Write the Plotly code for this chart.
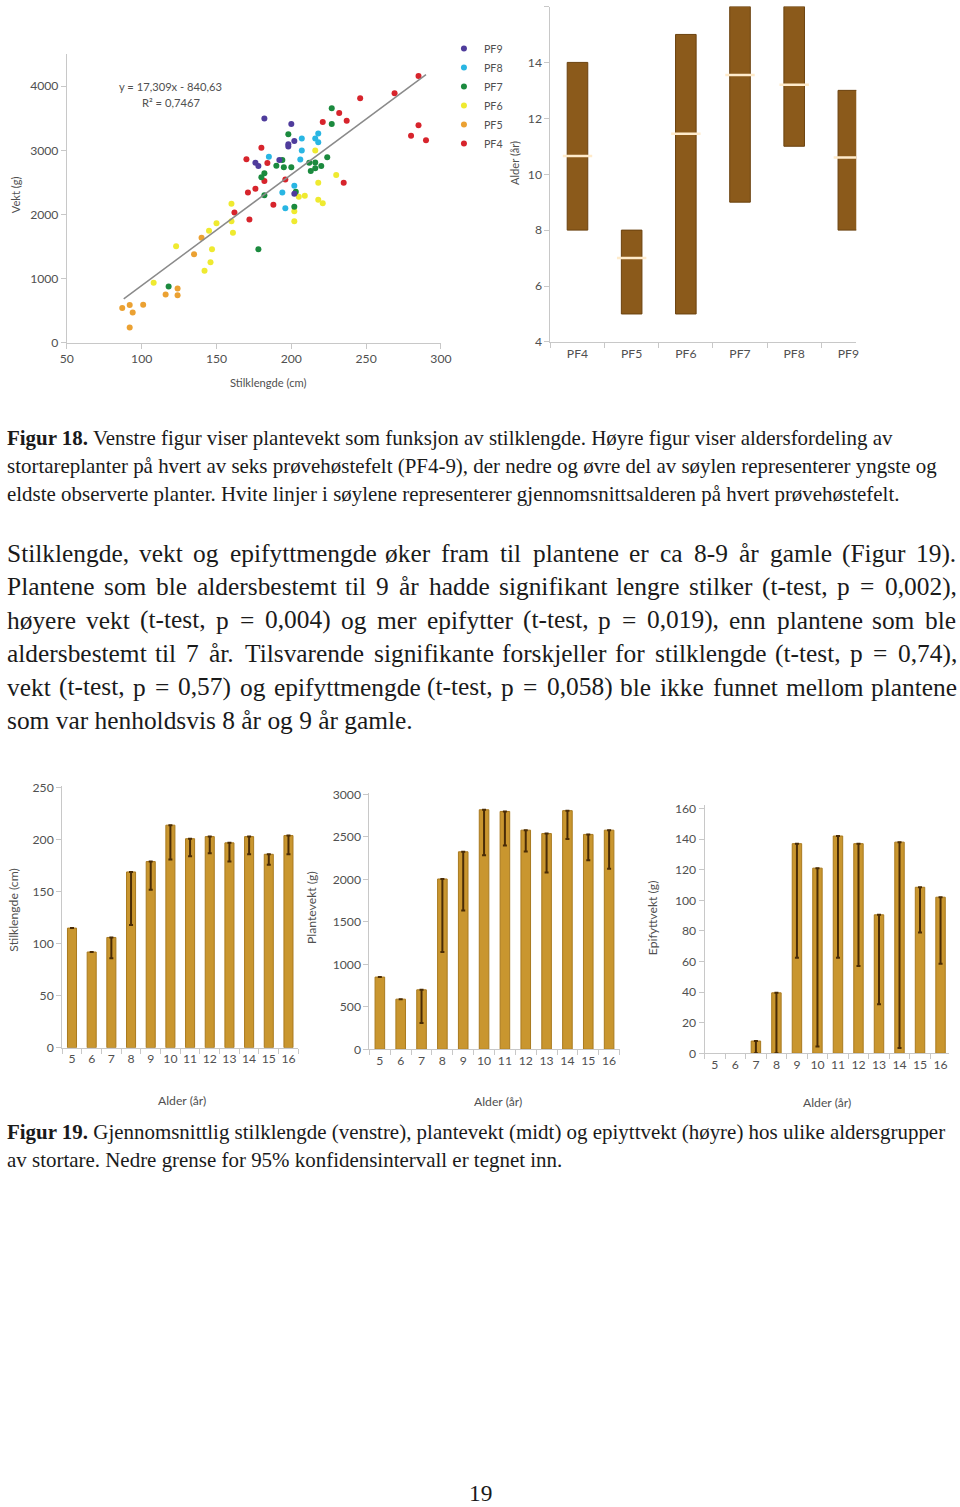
import plotly.graph_objects as go

# Figure size; the photographed page shows it with an 8px offset and a slight downscale,
# so page-pixel positions are converted to paper coordinates through SX/SY.
W, H = 960, 1507
OX, OY = 8, 8
SX, SY = 0.9836, 0.9895

# ---------------- data: scatter (Figur 18 left) ----------------
series_names = ["PF4", "PF5", "PF6", "PF7", "PF8", "PF9"]
series_colors = ["#D7242C", "#EBA132", "#EFEA30", "#1B8A3E", "#29B6E3", "#4F3C9C"]
pf4_x = [285, 269, 246, 232, 237, 221, 180, 170, 184, 235, 182, 196, 176, 171, 188, 162, 172, 285, 280, 290]
pf4_y = [4160, 3890, 3810, 3580, 3460, 3440, 3040, 2860, 2800, 2495, 2520, 2545, 2400, 2340, 2150, 2030, 1920, 3390, 3225, 3155]
pf5_x = [87, 92, 94, 92, 101, 116, 124, 124, 135, 140]
pf5_y = [540, 585, 470, 235, 590, 750, 845, 740, 1380, 1635]
pf6_x = [216, 230, 218, 205, 209, 218, 221, 202, 160, 108, 123, 142, 146, 147, 145, 150, 160, 161, 202]
pf6_y = [2995, 2615, 2495, 2275, 2290, 2230, 2175, 2050, 2165, 935, 1505, 1120, 1255, 1455, 1745, 1860, 1895, 1715, 1895]
pf7_x = [227, 227, 198, 224, 194, 190, 195, 200, 212, 216, 216, 220, 213, 182, 180, 182, 203, 202, 118, 178]
pf7_y = [3655, 3410, 3250, 2890, 2850, 2760, 2735, 2735, 2805, 2810, 2720, 2755, 2675, 2640, 2580, 2300, 2355, 2120, 875, 1455]
pf8_x = [207, 218, 216, 218, 207, 185, 206, 202, 194, 196]
pf8_y = [3185, 3260, 3185, 3125, 2995, 2900, 2855, 2445, 2340, 2095]
pf9_x = [182, 200, 198, 198, 202, 176, 178, 192, 202]
pf9_y = [3495, 3410, 3095, 3060, 3145, 2805, 2755, 2850, 2320]
scatter_x = [pf4_x, pf5_x, pf6_x, pf7_x, pf8_x, pf9_x]
scatter_y = [pf4_y, pf5_y, pf6_y, pf7_y, pf8_y, pf9_y]
trend_slope, trend_icept = 17.309, -840.63
trend_x = [88, 290]

# ---------------- data: age range per field (Figur 18 right) ----------------
fields = ["PF4", "PF5", "PF6", "PF7", "PF8", "PF9"]
age_min = [8, 5, 5, 9, 11, 8]
age_max = [14, 8, 15, 16, 16, 13]
age_mean = [10.65, 7.0, 11.45, 13.55, 13.2, 10.6]

# ---------------- data: Figur 19 ----------------
ages = [5, 6, 7, 8, 9, 10, 11, 12, 13, 14, 15, 16]
stilk = [115, 92, 106, 169, 179, 214, 201, 203, 197, 203, 186, 204]
stilk_low = [None, None, 86, 118, 152, 181, 184, 187, 179, 186, 176, 186]
vekt = [850, 590, 700, 2005, 2325, 2820, 2800, 2580, 2540, 2810, 2530, 2580]
vekt_low = [None, None, 310, 1145, 1635, 2285, 2400, 2330, 2080, 2475, 2225, 2125]
epi = [None, None, 8, 39.5, 137, 121, 142, 137, 90.5, 138, 108.5, 102]
epi_low = [None, None, 0, 0, 62.5, 4.5, 62.5, 57, 32, 3.5, 79, 58.5]

# ---------------- text ----------------
cap18 = ["<b>Figur 18.</b> Venstre figur viser plantevekt som funksjon av stilklengde. Høyre figur viser aldersfordeling av",
         "stortareplanter på hvert av seks prøvehøstefelt (PF4-9), der nedre og øvre del av søylen representerer yngste og",
         "eldste observerte planter. Hvite linjer i søylene representerer gjennomsnittsalderen på hvert prøvehøstefelt."]
body = ["Stilklengde, vekt og epifyttmengde øker fram til plantene er ca 8-9 år gamle (Figur 19).",
        "Plantene som ble aldersbestemt til 9 år hadde signifikant lengre stilker (t-test, p = 0,002),",
        "høyere vekt (t-test, p = 0,004) og mer epifytter (t-test, p = 0,019), enn plantene som ble",
        "aldersbestemt til 7 år. Tilsvarende signifikante forskjeller for stilklengde (t-test, p = 0,74),",
        "vekt (t-test, p = 0,57) og epifyttmengde (t-test, p = 0,058) ble ikke funnet mellom plantene",
        "som var henholdsvis 8 år og 9 år gamle."]
cap19 = ["<b>Figur 19.</b> Gjennomsnittlig stilklengde (venstre), plantevekt (midt) og epiyttvekt (høyre) hos ulike aldersgrupper",
         "av stortare. Nedre grense for 95% konfidensintervall er tegnet inn."]

# ---------------- helpers (page pixel -> paper) ----------------
def px(x):
    return (x - OX) / (SX * W)

def py(y):
    return 1 - (y - OY) / (SY * H)

def dx(a, b):
    return [max(0.0, px(a)), min(1.0, px(b))]

def dy(top, bottom):
    return [max(0.0, py(bottom)), min(1.0, py(top))]

def F(size):
    return size / SX

GRID = "#C8C8C8"
TXT = "#505050"
CFONT = "Lato"
BAR_COL = "#C9962F"
BAR_EDGE = "#A97A1F"
ERR_COL = "#4A2C06"

fig = go.Figure()

for name, col, xs, ys in zip(series_names, series_colors, scatter_x, scatter_y):
    fig.add_trace(go.Scatter(x=xs, y=ys, mode="markers", name=name,
                             marker=dict(size=6, color=col, line=dict(width=0)),
                             xaxis="x", yaxis="y", showlegend=True))
fig.add_trace(go.Scatter(x=trend_x, y=[trend_slope * v + trend_icept for v in trend_x],
                         mode="lines", line=dict(color="#8A8A8A", width=1.5),
                         xaxis="x", yaxis="y", showlegend=False, hoverinfo="skip"))

fidx = list(range(len(fields)))
fig.add_trace(go.Bar(x=fidx, y=[b - a for a, b in zip(age_min, age_max)], base=age_min,
                     width=0.38, marker=dict(color="#8B5A1B", line=dict(color="#6B420F", width=1)),
                     xaxis="x2", yaxis="y2", showlegend=False, cliponaxis=False))
fig.add_trace(go.Scatter(x=fidx, y=age_mean, mode="markers",
                         marker=dict(symbol="line-ew", size=21, line=dict(width=2.5, color="#FFEBCB")),
                         xaxis="x2", yaxis="y2", showlegend=False))

def bar_with_low(vals, lows, xa, ya):
    minus = [None if (v is None or l is None) else v - l for v, l in zip(vals, lows)]
    plus = [None if m is None else 0 for m in minus]
    return go.Bar(x=ages, y=vals, width=0.46,
                  marker=dict(color=BAR_COL, line=dict(color=BAR_EDGE, width=1)),
                  error_y=dict(type="data", symmetric=False, array=plus, arrayminus=minus,
                               color=ERR_COL, thickness=2, width=2),
                  xaxis=xa, yaxis=ya, showlegend=False)

fig.add_trace(bar_with_low(stilk, stilk_low, "x3", "y3"))
fig.add_trace(bar_with_low(vekt, vekt_low, "x4", "y4"))
fig.add_trace(bar_with_low(epi, epi_low, "x5", "y5"))

tickfont = dict(family=CFONT, size=F(12), color=TXT)
axis_common = dict(showgrid=False, zeroline=False, showline=True, linecolor=GRID, linewidth=1,
                   ticks="outside", tickcolor=GRID, ticklen=5, tickfont=tickfont, fixedrange=True)

cat_minor = dict(tick0=0.5, dtick=1, ticks="outside", ticklen=5, tickcolor=GRID, showgrid=False)

layout = dict(
    width=W, height=H, margin=dict(l=0, r=0, t=0, b=0),
    paper_bgcolor="white", plot_bgcolor="white", showlegend=True,
    legend=dict(x=px(446), y=py(36), xanchor="left", yanchor="top", traceorder="reversed",
                font=dict(family=CFONT, size=F(10.5), color=TXT), itemwidth=30, bgcolor="rgba(0,0,0,0)",
                tracegroupgap=0),
    xaxis=dict(axis_common, domain=dx(68, 443), range=[50, 300], dtick=50, tick0=50, anchor="y"),
    yaxis=dict(axis_common, domain=dy(56, 344), range=[0, 4500], tickvals=[0, 1000, 2000, 3000, 4000], anchor="x"),
    xaxis2=dict(axis_common, domain=dx(552.7, 859.3), range=[-0.5, 5.146], tickvals=fidx, ticktext=fields,
                ticks="", minor=cat_minor, anchor="y2"),
    yaxis2=dict(axis_common, domain=dy(8.5, 343.3), range=[4, 16], dtick=2, tick0=4, anchor="x2"),
    xaxis3=dict(axis_common, domain=dx(63.3, 300), range=[4.5, 16.5], tickvals=ages, ticks="",
                minor=cat_minor, anchor="y3"),
    yaxis3=dict(axis_common, domain=dy(786.2, 1047.7), range=[0, 252], dtick=50, anchor="x3"),
    xaxis4=dict(axis_common, domain=dx(371.3, 622), range=[4.5, 16.5], tickvals=ages, ticks="",
                minor=cat_minor, anchor="y4"),
    yaxis4=dict(axis_common, domain=dy(793.3, 1049.3), range=[0, 3020], dtick=500, anchor="x4"),
    xaxis5=dict(axis_common, domain=dx(707.3, 952), range=[4.5, 16.4], tickvals=ages, ticks="",
                minor=cat_minor, anchor="y5"),
    yaxis5=dict(axis_common, domain=dy(805.9, 1053.3), range=[0, 162], dtick=20, anchor="x5"),
)
fig.update_layout(**layout)

ann = []
def A(text, x, y, size=12, color=TXT, family=CFONT, angle=0, xanchor="center"):
    ann.append(dict(text=text, x=px(x), y=py(y), xref="paper", yref="paper", showarrow=False,
                    xanchor=xanchor, yanchor="middle", textangle=angle,
                    font=dict(family=family, size=F(size), color=color)))

A("y = 17,309x - 840,63", 172, 88, size=11)
A("R² = 0,7467", 172, 104, size=11)
A("Vekt (g)", 16, 196, size=11, angle=-90)
A("Stilklengde (cm)", 270, 384, size=11)
A("Alder (år)", 517, 165, size=11, angle=-90)
A("Stilklengde (cm)", 15, 910, size=12, angle=-90)
A("Plantevekt (g)", 313, 908, size=12, angle=-90)
A("Epifyttvekt (g)", 655, 918, size=12, angle=-90)
A("Alder (år)", 183, 1100, size=12)
A("Alder (år)", 500, 1101, size=12)
A("Alder (år)", 830, 1102, size=12)

SERIF = "Liberation Serif"
INK = "#1A1A1A"
CAP_SIZE = 20.6
for i, line in enumerate(cap18):
    A(line, 6, 439 + 28 * i, size=CAP_SIZE, color=INK, family=SERIF, xanchor="left")
for i, line in enumerate(cap19):
    A(line, 6, 1132 + 28 * i, size=CAP_SIZE, color=INK, family=SERIF, xanchor="left")
A("19", 483, 1492, size=23, color=INK, family=SERIF)

TNR = {" ": 250, "a": 444, "b": 500, "c": 444, "d": 500, "e": 444, "f": 333, "g": 500, "h": 500, "i": 278,
       "j": 278, "k": 500, "l": 278, "m": 778, "n": 500, "o": 500, "p": 500, "q": 500, "r": 333, "s": 389,
       "t": 278, "u": 500, "v": 500, "w": 722, "x": 500, "y": 500, "z": 444, "ø": 500, "å": 444, "æ": 667,
       "A": 722, "F": 556, "H": 722, "P": 556, "S": 556, "T": 611, ",": 250, ".": 250, "-": 333, "(": 333,
       ")": 333, "=": 564}
BODY_SIZE = 25
LEFT, RIGHT = 6, 957

def word_w(w):
    return sum(TNR.get(c, 500) for c in w) / 1000 * BODY_SIZE

for i, line in enumerate(body):
    yline = 554 + 33.4 * i
    words = line.split(" ")
    if i == len(body) - 1:
        A(line, LEFT, yline, size=BODY_SIZE, color=INK, family=SERIF, xanchor="left")
        continue
    widths = [word_w(w) for w in words]
    gap = (RIGHT - LEFT - sum(widths)) / (len(words) - 1)
    xcur = LEFT
    for w, wd in zip(words, widths):
        A(w, xcur, yline, size=BODY_SIZE, color=INK, family=SERIF, xanchor="left")
        xcur += wd + gap

fig.update_layout(annotations=ann)
fig.write_html("out.html")
